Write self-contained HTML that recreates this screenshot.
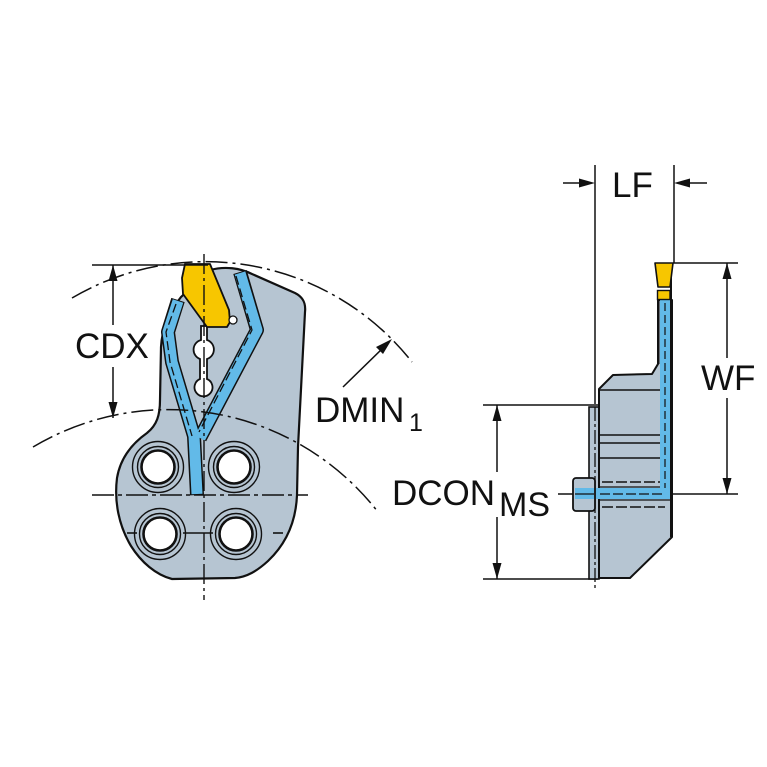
<!DOCTYPE html>
<html>
<head>
<meta charset="utf-8">
<style>
  html,body{margin:0;padding:0;background:#fff;}
  svg{display:block;}
  text{font-family:"Liberation Sans", Arial, sans-serif; fill:#111;}
</style>
</head>
<body>
<svg width="767" height="767" viewBox="0 0 767 767" xmlns="http://www.w3.org/2000/svg">
  <rect width="767" height="767" fill="#fff"/>

  <!-- ================= LEFT VIEW ================= -->
  <!-- upper DMIN arc -->
  <path d="M72,298 A263,263 0 0,1 412,362" fill="none" stroke="#111" stroke-width="1.5" stroke-dasharray="22 5 3 5"/>

  <!-- body -->
  <path d="M210,270 C225,266 240,268 252,274 L295,293 C303,297 306,303 305,312 L298,447 L297,495
           C296,520 287,543 268,561 C257,571 247,577 235,578 L172,579
           C156,575 141,562 131,546 C119,526 114,502 117,478 C120,460 130,445 147,433
           C157,425 160,415 160,400 L161,347 C162,328 169,312 181,297 Z"
        fill="#b6c5d2" stroke="#111" stroke-width="2.2" stroke-linejoin="round"/>

  <!-- holes -->
  <g fill="none" stroke="#111">
    <circle cx="158" cy="467" r="25.5" stroke-width="1.4"/>
    <circle cx="158" cy="467" r="20.5" stroke-width="1.4"/>
    <circle cx="234" cy="467" r="25.5" stroke-width="1.4"/>
    <circle cx="234" cy="467" r="20.5" stroke-width="1.4"/>
    <circle cx="160" cy="534" r="25.5" stroke-width="1.4"/>
    <circle cx="160" cy="534" r="20.5" stroke-width="1.4"/>
    <circle cx="236" cy="534" r="25.5" stroke-width="1.4"/>
    <circle cx="236" cy="534" r="20.5" stroke-width="1.4"/>
  </g>
  <g fill="#fff" stroke="#111" stroke-width="2.6">
    <circle cx="158" cy="467" r="16.5"/>
    <circle cx="234" cy="467" r="16.5"/>
    <circle cx="160" cy="534" r="16.5"/>
    <circle cx="236" cy="534" r="16.5"/>
  </g>

  <!-- coolant channels -->
  <g fill="none" stroke-linejoin="round" stroke-linecap="butt">
    <path d="M178,300 L168,332 L172,362 L194,436 L197,495" stroke="#111" stroke-width="14"/>
    <path d="M240,272 L257,330 L200,438" stroke="#111" stroke-width="14"/>
    <path d="M178,301 L168,332 L172,362 L194,436 L197,494" stroke="#62bae8" stroke-width="11"/>
    <path d="M240,273 L257,330 L200,438" stroke="#62bae8" stroke-width="11"/>
    <path d="M176,304 L166,332 L170,362 L192,436" stroke="#111" stroke-width="1.3" stroke-dasharray="9 4"/>
    <path d="M236,276 L252,330 L199,432" stroke="#111" stroke-width="1.3" stroke-dasharray="9 4"/>
  </g>

  <!-- slot below insert -->
  <path d="M201,326 L207,326 L207,340 A10,10 0 0 1 207,359 L207,379 A9,9 0 1 1 200,379 L200,359 A10,10 0 0 1 201,340 Z"
        fill="#fff" stroke="#111" stroke-width="1.8"/>

  <!-- insert -->
  <path d="M185,264 L210,264 L229,310 L230,322 L227,327 L207,327 L183,294 L182,278 Z"
        fill="#f7c600" stroke="#111" stroke-width="1.8" stroke-linejoin="round"/>
  <circle cx="233" cy="320" r="4" fill="#fff" stroke="#111" stroke-width="1.3"/>

  <!-- lower DMIN arc -->
  <path d="M33,447 A265,265 0 0,1 378,512" fill="none" stroke="#111" stroke-width="1.5" stroke-dasharray="22 5 3 5"/>

  <!-- center lines -->
  <line x1="204" y1="254" x2="204" y2="600" stroke="#111" stroke-width="1.4" stroke-dasharray="20 4 3 4"/>
  <line x1="92" y1="495" x2="308" y2="495" stroke="#111" stroke-width="1.6" stroke-dasharray="22 4 4 4"/>
  <g stroke="#111" stroke-width="1.6">
    <line x1="127" y1="533" x2="137" y2="533"/>
    <line x1="183" y1="533" x2="213" y2="533"/>
    <line x1="273" y1="533" x2="283" y2="533"/>
  </g>

  <!-- top reference line -->
  <line x1="92" y1="265" x2="208" y2="265" stroke="#111" stroke-width="1.6"/>

  <!-- CDX dimension -->
  <line x1="113" y1="265" x2="113" y2="325" stroke="#111" stroke-width="1.5"/>
  <line x1="113" y1="367" x2="113" y2="418" stroke="#111" stroke-width="1.5"/>
  <polygon points="113,265 108.5,281 117.5,281" fill="#111"/>
  <polygon points="113,418 108.5,402 117.5,402" fill="#111"/>
  <text x="75" y="358" font-size="35">CDX</text>

  <!-- DMIN arrow -->
  <line x1="343" y1="387" x2="385" y2="346" stroke="#111" stroke-width="1.5"/>
  <polygon points="392,339 376,347 383,354" fill="#111"/>
  <text x="315" y="422" font-size="35">DMIN</text>
  <text x="409" y="431" font-size="25">1</text>

  <!-- ================= RIGHT VIEW ================= -->
  <!-- LF -->
  <line x1="595" y1="165" x2="595" y2="404" stroke="#111" stroke-width="1.5"/>
  <line x1="674" y1="165" x2="674" y2="263" stroke="#111" stroke-width="1.5"/>
  <line x1="563" y1="183" x2="590" y2="183" stroke="#111" stroke-width="1.5"/>
  <polygon points="595,183 579,178.5 579,187.5" fill="#111"/>
  <line x1="679" y1="183" x2="707" y2="183" stroke="#111" stroke-width="1.5"/>
  <polygon points="674,183 690,178.5 690,187.5" fill="#111"/>
  <text x="612" y="197" font-size="35">LF</text>

  <!-- WF -->
  <line x1="673" y1="263" x2="738" y2="263" stroke="#111" stroke-width="1.5"/>
  <line x1="558" y1="494" x2="738" y2="494" stroke="#111" stroke-width="1.5"/>
  <line x1="727" y1="263" x2="727" y2="358" stroke="#111" stroke-width="1.5"/>
  <line x1="727" y1="398" x2="727" y2="494" stroke="#111" stroke-width="1.5"/>
  <polygon points="727,263 722.5,279 731.5,279" fill="#111"/>
  <polygon points="727,494 722.5,478 731.5,478" fill="#111"/>
  <text x="701" y="390" font-size="35">WF</text>

  <!-- DCON -->
  <line x1="483" y1="405" x2="598" y2="405" stroke="#111" stroke-width="1.5"/>
  <line x1="483" y1="579" x2="598" y2="579" stroke="#111" stroke-width="1.5"/>
  <line x1="497" y1="405" x2="497" y2="472" stroke="#111" stroke-width="1.5"/>
  <line x1="497" y1="517" x2="497" y2="579" stroke="#111" stroke-width="1.5"/>
  <polygon points="497,405 492.5,421 501.5,421" fill="#111"/>
  <polygon points="497,579 492.5,563 501.5,563" fill="#111"/>
  <text x="392" y="505" font-size="35">DCON</text>
  <text x="499" y="516" font-size="34">MS</text>

  <!-- plate -->
  <rect x="589" y="407" width="10" height="172" fill="#b6c5d2" stroke="#111" stroke-width="1.6"/>
  <line x1="595" y1="407" x2="595" y2="590" stroke="#111" stroke-width="1.3" stroke-dasharray="14 3 3 3"/>

  <!-- main body -->
  <path d="M599,389 L613,375 L652,374 L658,364 L658,300 L672,300 L672,537 L630,578 L599,578 Z"
        fill="#b6c5d2" stroke="#111" stroke-width="2" stroke-linejoin="round"/>
  <g stroke="#111" stroke-width="1.6">
    <line x1="599" y1="390" x2="672" y2="390"/>
    <line x1="599" y1="435" x2="672" y2="435"/>
    <line x1="599" y1="443" x2="672" y2="443"/>
    <line x1="599" y1="458" x2="672" y2="458"/>
  </g>

  <!-- blade channel -->
  <rect x="660" y="300" width="10" height="198" fill="#62bae8"/>
  <line x1="658.5" y1="300" x2="658.5" y2="364" stroke="#111" stroke-width="2"/>
  <line x1="671" y1="263" x2="671" y2="537" stroke="#111" stroke-width="2"/>
  <line x1="665" y1="303" x2="665" y2="490" stroke="#111" stroke-width="1.2" stroke-dasharray="8 4"/>

  <!-- horizontal channel -->
  <rect x="593" y="488" width="77" height="11" fill="#62bae8"/>
  <line x1="600" y1="494" x2="665" y2="494" stroke="#111" stroke-width="1.2" stroke-dasharray="10 3"/>
  <line x1="600" y1="487" x2="660" y2="487" stroke="#111" stroke-width="1.2"/>
  <line x1="600" y1="500" x2="670" y2="500" stroke="#111" stroke-width="1.2"/>
  <line x1="602" y1="482" x2="660" y2="482" stroke="#111" stroke-width="1.5" stroke-dasharray="11 3"/>
  <line x1="602" y1="507" x2="665" y2="507" stroke="#111" stroke-width="1.5" stroke-dasharray="11 3"/>

  <!-- plug -->
  <rect x="573" y="478" width="22" height="33" rx="3" fill="#b6c5d2" stroke="#111" stroke-width="1.8"/>
  <rect x="575" y="488" width="19" height="11" fill="#62bae8"/>
  <line x1="575" y1="494" x2="594" y2="494" stroke="#111" stroke-width="1.2"/>

  <!-- side insert -->
  <path d="M655,263 L673,263 L670,287 L658,287 Z" fill="#f7c600" stroke="#111" stroke-width="1.6" stroke-linejoin="round"/>
  <rect x="657.5" y="290.5" width="12.5" height="9" fill="#f7c600" stroke="#111" stroke-width="1.4"/>
</svg>
</body>
</html>
